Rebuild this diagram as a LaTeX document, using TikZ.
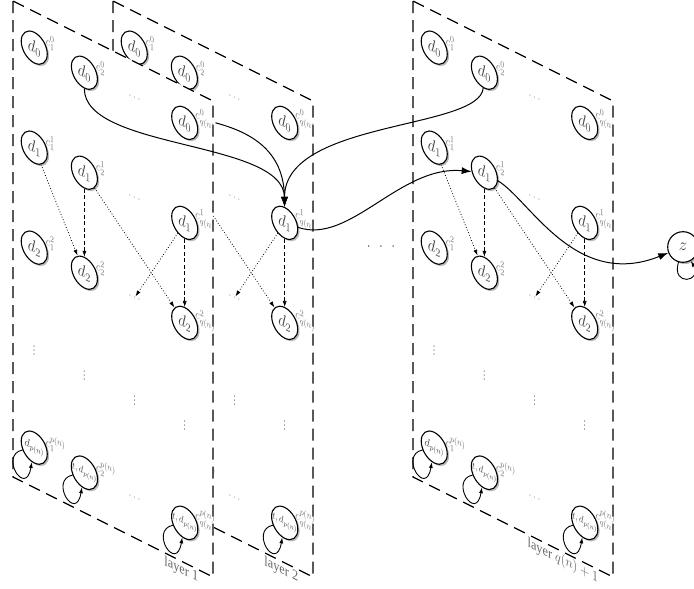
\documentclass[tikz,border=0pt]{standalone}
\usepackage{fontspec}
\setmainfont{Liberation Serif}
\usetikzlibrary{shadows,arrows.meta}
\tikzset{
  st/.style={circle, draw=black, line width=1.1pt, fill=white, minimum size=30.6pt, inner sep=0pt,
    transform shape, text=black!75, font=\LARGE,
    drop shadow={shadow xshift=1.8pt, shadow yshift=-1.8pt, opacity=0.55}},
  clab/.style={anchor=west, inner sep=0.5pt, transform shape, text=black!55, font=\fontsize{13}{15}\selectfont},
  ell/.style={inner sep=1pt, transform shape, text=black!55, font=\large},
  layerbox/.style={draw=black, dash pattern=on 12pt off 7pt, line width=1.2pt},
  dotarr/.style={dash pattern=on 0.8pt off 2pt, line width=0.8pt, -{Latex[length=6pt,width=4pt]}},
  dasharr/.style={dash pattern=on 4pt off 2.5pt, line width=0.6pt, -{Latex[length=6pt,width=4pt]}},
  bigarr/.style={line width=1pt, -{Latex[length=10pt,width=7pt]}},
  selfloop/.style={line width=0.9pt, -{Latex[length=6pt,width=4pt]}},
  laylab/.style={anchor=east, transform shape, text=black!60, inner sep=0pt, font=\Large},
}
\newcommand{\drawlayer}[3]{%
\begin{scope}[cm={0.85,-0.425,0,1,(#1,0)}]
  \draw[layerbox,fill=white] (0,1) rectangle (235.3,477);
  % row 0
  \node[st] (#2-01) at (25,37) {$d_0$};
  \node[st] (#2-02) at (84,37) {$d_0$};
  \node[ell] (#2-03) at (143,37) {$\ldots$};
  \node[st] (#2-04) at (202,37) {$d_0$};
  \node[clab] (#2-l01) at (38,24) {$c^0_1$};
  \node[clab] (#2-l02) at (97,24) {$c^0_2$};
  \node[clab] (#2-l04) at (214,24) {$c^0_{q(n)}$};
  % row 1
  \node[st] (#2-11) at (25,137) {$d_1$};
  \node[st] (#2-12) at (84,137) {$d_1$};
  \node[ell] (#2-13) at (143,137) {$\ldots$};
  \node[st] (#2-14) at (202,137) {$d_1$};
  \node[clab] (#2-l11) at (38,124) {$c^1_1$};
  \node[clab] (#2-l12) at (97,124) {$c^1_2$};
  \node[clab] (#2-l14) at (214,124) {$c^1_{q(n)}$};
  % row 2
  \node[st] (#2-21) at (25,237) {$d_2$};
  \node[st] (#2-22) at (84,237) {$d_2$};
  \node[ell] (#2-23) at (143,237) {$\ldots$};
  \node[st] (#2-24) at (202,237) {$d_2$};
  \node[clab] (#2-l21) at (38,224) {$c^2_1$};
  \node[clab] (#2-l22) at (97,224) {$c^2_2$};
  \node[clab] (#2-l24) at (214,224) {$c^2_{q(n)}$};
  % row 3
  \node[ell] (#2-31) at (25,337) {$\vdots$};
  \node[ell] (#2-32) at (84,337) {$\vdots$};
  \node[ell] (#2-33) at (143,337) {$\vdots$};
  \node[ell] (#2-34) at (202,337) {$\vdots$};
  % row 4
  \node[st,font=\large] (#2-41) at (25,437) {$d_{p(n)}$};
  \node[st,font=\normalsize] (#2-42) at (84,437) {$t,d_{p(n)}$};
  \node[ell] (#2-43) at (143,437) {$\ldots$};
  \node[st,font=\normalsize] (#2-44) at (202,437) {$t,d_{p(n)}$};
  \node[clab] (#2-l41) at (38,424) {$c^{p(n)}_1$};
  \node[clab] (#2-l42) at (97,424) {$c^{p(n)}_2$};
  \node[clab] (#2-l44) at (214,424) {$c^{p(n)}_{q(n)}$};
  % edges
  \draw[dotarr] (#2-11) -- (#2-22);
  \draw[dasharr] (#2-12) -- (#2-22);
  \draw[dotarr] (#2-12) -- (#2-24);
  \draw[dotarr] (#2-14) -- (#2-23);
  \draw[dasharr] (#2-14) -- (#2-24);
  \draw[selfloop] (#2-41) .. controls +(-42,25) and +(-10,55) .. (#2-41);
  \draw[selfloop] (#2-42) .. controls +(-42,25) and +(-10,55) .. (#2-42);
  \draw[selfloop] (#2-44) .. controls +(-42,25) and +(-10,55) .. (#2-44);
  \node[laylab] (#2-name) at (218,486) {#3};
\end{scope}}

\begin{document}
\begin{tikzpicture}[x=1pt,y=-1pt]
  \useasboundingbox (0,0) rectangle (694,589);
  \drawlayer{413}{c}{layer $q(n)+1$}
  \drawlayer{113}{b}{layer 2}
  \drawlayer{13}{a}{layer 1}
  \node (gap) at (381,247) {\large$\cdot$\hspace{9pt}$\cdot$\hspace{9pt}$\cdot$};
  \node[st] (z) at (683,247) {$z$};
  \draw[selfloop] (z) .. controls +(-12,40) and +(20,35) .. (z);
  \draw[bigarr] (a-02) .. controls (84,150) and (284,140) .. (b-14);
  \draw[bigarr] (a-l04) .. controls (250,132) and (284,150) .. (b-14);
  \draw[bigarr] (c-02) .. controls (480,130) and (284,120) .. (b-14);
  \draw[bigarr] (b-14) .. controls (350,245) and (400,165) .. (c-12);
  \draw[bigarr] (c-12) .. controls (530,200) and (575,290) .. (z);
\end{tikzpicture}
\end{document}
